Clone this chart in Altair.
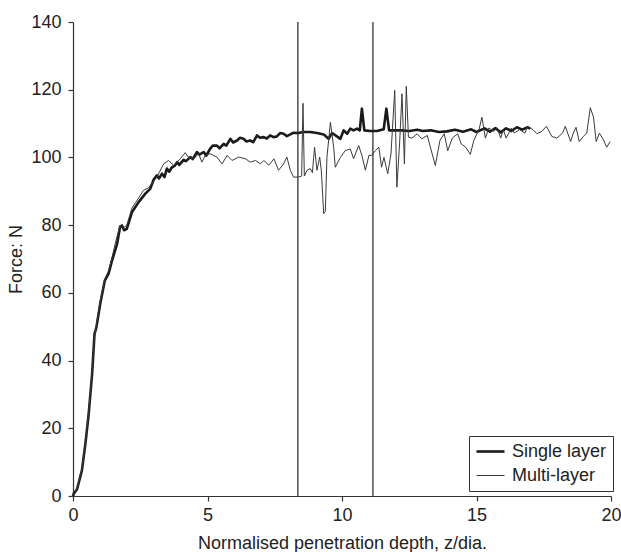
import altair as alt
import pandas as pd

# Single layer series (x = z/dia, y = force N)
single_x = [0.0, 0.02, 0.15, 0.33, 0.46, 0.58, 0.71, 0.80, 0.87, 1.01, 1.18, 1.32, 1.45, 1.64, 1.75, 1.82, 1.9, 2.0,
            2.19, 2.44, 2.69, 2.87, 3.0, 3.12, 3.2, 3.31, 3.4, 3.49, 3.58, 3.68, 3.78, 3.87, 3.95, 4.11, 4.2, 4.36,
            4.45, 4.61, 4.7, 4.86, 4.95, 5.1, 5.2, 5.35, 5.45, 5.6, 5.7, 5.85, 5.95, 6.1, 6.2, 6.34, 6.45, 6.59,
            6.7, 6.84, 6.95, 7.09, 7.2, 7.33, 7.45, 7.58, 7.7, 7.83, 7.95, 8.08, 8.2, 8.39, 8.55, 8.82, 9.07,
            9.32, 9.5, 9.63, 9.81, 9.94, 10.06, 10.19, 10.31, 10.43, 10.56, 10.66, 10.74, 10.83, 11.05, 11.3,
            11.55, 11.65, 11.75, 12.04, 12.2, 12.5, 12.8, 13.0, 13.3, 13.6, 13.9, 14.2, 14.5, 14.8, 15.0, 15.3,
            15.5, 15.7, 15.9, 16.1, 16.3, 16.5, 16.7, 16.9, 17.0]
single_y = [0.0, 0.6, 2.0, 7.5, 15.4, 24.0, 36.0, 47.9, 49.8, 56.7, 63.6, 65.6, 69.5, 74.5, 79.5, 79.9, 78.5, 78.9,
            83.8, 86.8, 89.3, 90.7, 93.5, 94.7, 93.8, 95.2, 94.2, 96.7, 95.8, 97.1, 97.5, 98.6, 97.8, 99.3, 98.9,
            100.1, 99.5, 101.6, 100.8, 101.6, 100.5, 102.6, 103.5, 103.5, 102.7, 104.0, 103.5, 105.5, 104.4, 105.0,
            105.8, 105.5, 104.7, 105.0, 104.5, 106.5, 105.8, 106.0, 105.6, 106.5, 106.0, 106.2, 107.2, 107.0,
            106.3, 106.8, 107.3, 107.2, 107.5, 107.5, 107.2, 106.8, 105.5, 107.2, 106.2, 105.5, 108.0, 107.0,
            108.5, 108.0, 108.5, 108.0, 114.4, 108.0, 107.8, 107.8, 108.3, 114.4, 108.0, 108.0, 108.0, 107.8,
            108.2, 107.8, 108.0, 107.5, 107.7, 108.2, 107.6, 108.3, 107.5, 108.6, 107.6, 108.7, 107.4, 108.6,
            107.8, 108.9, 108.2, 108.9, 108.5]

# Multi-layer series
multi_x = [0.0, 0.05, 0.15, 0.33, 0.46, 0.58, 0.71, 0.80, 0.87, 1.01, 1.18, 1.32, 1.45, 1.6, 1.75, 1.85, 2.0, 2.19,
           2.44, 2.62, 2.8, 3.12, 3.37, 3.55, 3.74, 3.99, 4.17, 4.29, 4.49, 4.67, 4.79, 4.92, 5.1, 5.35, 5.54,
           5.73, 5.91, 6.16, 6.41, 6.59, 6.78, 6.97, 7.09, 7.28, 7.47, 7.64, 7.83, 7.95, 8.08, 8.2, 8.39, 8.5,
           8.55, 8.6, 8.7, 8.82, 8.9, 8.98, 9.07, 9.17, 9.23, 9.32, 9.38, 9.44, 9.57, 9.69, 9.75, 9.94, 10.12,
           10.31, 10.43, 10.62, 10.74, 10.87, 11.0, 11.1, 11.24, 11.37, 11.47, 11.56, 11.7, 11.82, 11.96, 12.04,
           12.14, 12.23, 12.32, 12.39, 12.47, 12.6, 12.79, 12.97, 13.17, 13.3, 13.47, 13.64, 13.8, 13.93, 14.1,
           14.3, 14.43, 14.6, 14.77, 14.9, 15.1, 15.2, 15.33, 15.46, 15.65, 15.77, 15.9, 16.0, 16.1, 16.3, 16.4,
           16.6, 16.8, 16.9, 17.1, 17.25, 17.43, 17.6, 17.8, 17.99, 18.2, 18.3, 18.5, 18.6, 18.7, 18.82, 18.97,
           19.1, 19.23, 19.35, 19.45, 19.57, 19.72, 19.84, 19.97]
multi_y = [0.5, 0.3, 2.3, 7.8, 15.8, 24.5, 36.5, 47.0, 50.5, 57.5, 64.0, 66.5, 70.5, 75.5, 80.0, 79.0, 80.0, 85.0,
           88.0, 90.3, 91.0, 94.2, 98.1, 99.1, 97.7, 99.6, 101.4, 100.1, 99.6, 101.1, 98.6, 100.6, 101.1, 100.1,
           98.1, 100.6, 99.1, 100.1, 99.6, 98.6, 99.1, 98.1, 99.1, 97.7, 99.6, 96.2, 98.1, 100.1, 96.2, 94.2,
           94.2, 94.5, 116.0, 94.5, 96.2, 96.7, 95.5, 103.0, 96.2, 100.1, 96.2, 83.4, 84.0, 100.0, 110.4, 103.0,
           97.1, 100.0, 102.0, 102.5, 99.6, 103.5, 100.6, 96.2, 100.6, 100.6, 102.0, 103.0, 97.1, 100.0, 95.2,
           101.0, 119.8, 91.2, 104.0, 118.8, 98.1, 121.0, 106.0, 105.7, 107.0, 105.5, 106.5, 102.6, 97.6, 105.0,
           107.0, 102.0, 105.7, 107.0, 104.0, 103.0, 100.9, 105.0, 108.4, 111.9, 105.7, 108.7, 107.7, 108.7,
           105.7, 108.2, 105.7, 108.7, 107.2, 108.2, 107.2, 109.2, 108.2, 107.0, 107.7, 109.2, 106.2, 105.7,
           107.2, 109.2, 104.7, 107.2, 108.9, 104.7, 106.2, 107.2, 114.7, 111.9, 104.7, 107.2, 105.2, 103.0,
           104.7]

series_names = ["Single layer", "Multi-layer"]
marker_x = [8.36, 11.15]

x_ticks = [0, 5, 10, 15, 20]
y_ticks = [0, 20, 40, 60, 80, 100, 120, 140]

rows = []
for i, (xv, yv) in enumerate(zip(single_x, single_y)):
    rows.append({"x": xv, "y": yv, "series": series_names[0], "order": i})
for i, (xv, yv) in enumerate(zip(multi_x, multi_y)):
    rows.append({"x": xv, "y": yv, "series": series_names[1], "order": i})
df = pd.DataFrame(rows)
df_rules = pd.DataFrame({"x": marker_x})

FONT = "Liberation Sans"

xscale = alt.Scale(domain=[0, 20], nice=False, zero=False)
yscale = alt.Scale(domain=[0, 140], nice=False)

lines = alt.Chart(df).mark_line(strokeJoin="round").encode(
    x=alt.X("x:Q", scale=xscale,
            axis=alt.Axis(title="Normalised penetration depth, z/dia.", values=x_ticks, grid=False,
                          tickSize=5, labelPadding=5, titlePadding=10, labelFlush=False)),
    y=alt.Y("y:Q", scale=yscale,
            axis=alt.Axis(title="Force: N", values=y_ticks, grid=False, tickSize=5, labelPadding=7,
                          titlePadding=5)),
    color=alt.Color("series:N", scale=alt.Scale(domain=series_names, range=["#1a1a1a", "#3a3a3a"]),
                    sort=series_names, legend=alt.Legend(title=None)),
    strokeWidth=alt.StrokeWidth("series:N", scale=alt.Scale(domain=series_names, range=[2.6, 1.0]),
                                sort=series_names, legend=alt.Legend(title=None)),
    order="order:Q",
)

rules = alt.Chart(df_rules).mark_rule(color="#222222", strokeWidth=1.2).encode(
    x=alt.X("x:Q", scale=xscale)
)

chart = alt.layer(rules, lines).properties(
    width=538,
    height=474,
    padding={"left": 73, "top": 22, "right": 10, "bottom": 56},
    autosize=alt.AutoSizeParams(type="none"),
).configure_view(stroke=None).configure_axis(
    labelFont=FONT, titleFont=FONT, labelFontSize=18, titleFontSize=18,
    labelColor="#222222", titleColor="#222222", titleFontWeight="normal",
    domainColor="#333333", tickColor="#333333", domainWidth=1.2, tickWidth=1.2,
).configure_legend(
    orient="none", legendX=396, legendY=414,
    strokeColor="#333333", fillColor="white", padding=6,
    labelFont=FONT, labelFontSize=18, labelColor="#222222",
    symbolType="stroke", symbolSize=784, rowPadding=5, labelOffset=6, clipHeight=19,
)

chart.save("out.html", embed_options={"renderer": "svg", "actions": False})
